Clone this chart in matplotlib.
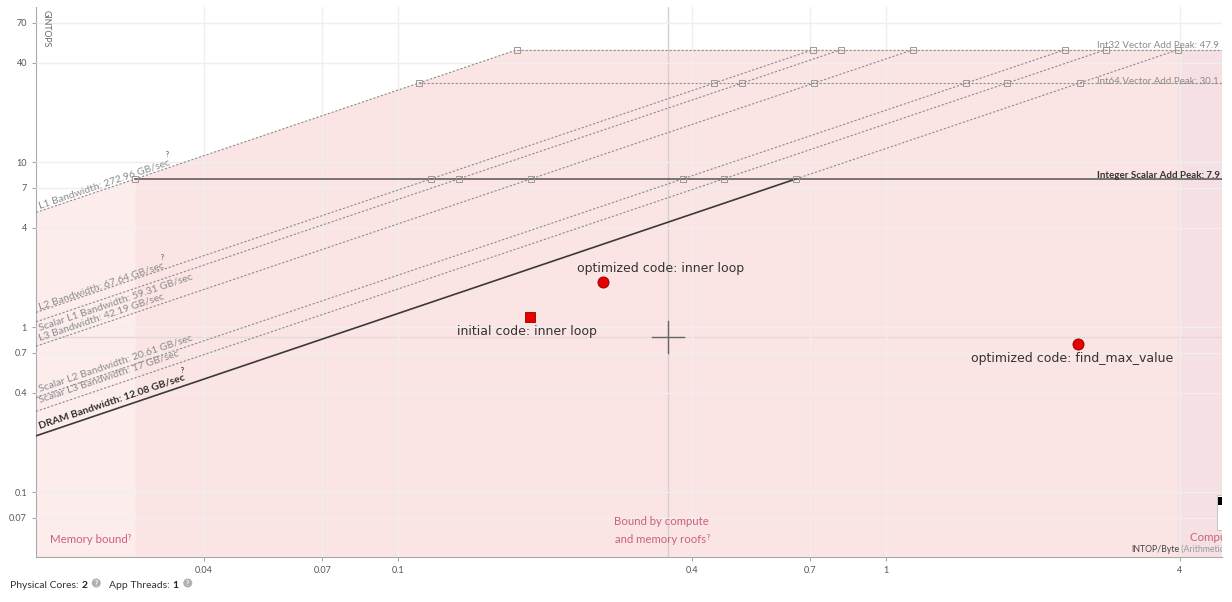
import matplotlib
matplotlib.use("Agg")
import matplotlib.pyplot as plt
import matplotlib.transforms as mtransforms
import numpy as np
from matplotlib.patches import Rectangle

# bandwidth roofs (GB/sec)
bw_labels = ["L1 Bandwidth: 272.96 GB/sec", "L2 Bandwidth: 67.64 GB/sec",
             "Scalar L1 Bandwidth: 59.31 GB/sec", "L3 Bandwidth: 42.19 GB/sec",
             "Scalar L2 Bandwidth: 20.61 GB/sec", "Scalar L3 Bandwidth: 17 GB/sec",
             "DRAM Bandwidth: 12.08 GB/sec"]
bw_values = [272.96, 67.64, 59.31, 42.19, 20.61, 17.0, 12.08]

# compute roofs (GINTOPS)
peak_labels = ["Int32 Vector Add Peak: 47.9", "Int64 Vector Add Peak: 30.1",
               "Integer Scalar Add Peak: 7.9"]
peak_values = [47.9, 30.1, 7.9]

# loops
loop_labels = ["initial code: inner loop", "optimized code: inner loop",
               "optimized code: find_max_value"]
loop_ai = [0.186, 0.263, 2.47]
loop_gintops = [1.15, 1.87, 0.79]
loop_markers = ["s", "o", "o"]

cursor_ai, cursor_gintops = 0.357, 0.865

xticks = [0.04, 0.07, 0.1, 0.4, 0.7, 1, 4]
xtick_labels = ["0.04", "0.07", "0.1", "0.4", "0.7", "1", "4"]
yticks = [0.07, 0.1, 0.4, 0.7, 1, 4, 7, 10, 40, 70]
ytick_labels = ["0.07", "0.1", "0.4", "0.7", "1", "4", "7", "10", "40", "70"]

# layout tweaks (pixels)
bw_label_dy = [3, 2, -10, 4, 5, 8, 6]
peak_label_dy = [2, -1, 1]
loop_label_off = [(-3, -15), (58, 14), (-6, -15)]

plt.rcParams["font.family"] = ["Lato", "DejaVu Sans"]
GRAY = "#8c8c8c"
PINK_TXT = "#c9627e"

fig = plt.figure(figsize=(12.32, 6.02), dpi=100)
ax = fig.add_axes([36 / 1232, 45 / 602, 1186 / 1232, 550 / 602])
ax.set_xscale("log"); ax.set_yscale("log")
ax.set_xlim(0.01812, 4.881); ax.set_ylim(0.04037, 87.0)

x0, x1 = ax.get_xlim()
l1 = bw_values[0]; dram = bw_values[-1]
top_peak = max(peak_values); scalar_peak = min(peak_values)
x_mem = scalar_peak / l1
x_comp = top_peak / dram

# shaded area under the roofline envelope, split into the three zones
xs = np.geomspace(x0, x1, 600)
for lo, hi, col in [(x0, x_mem, "#fcecec"), (x_mem, x_comp, "#fbe4e4"), (x_comp, x1, "#f5e1e4")]:
    m = (xs >= lo) & (xs <= hi)
    xx = np.concatenate([[lo], xs[m], [hi]])
    yy = np.minimum(l1 * xx, top_peak)
    ax.fill_between(xx, 1e-3, yy, color=col, lw=0, zorder=0)

ax.set_xticks(xticks); ax.set_xticklabels(xtick_labels)
ax.set_yticks(yticks); ax.set_yticklabels(ytick_labels)
ax.minorticks_off()
ax.grid(True, color="#f1eeee", lw=1, zorder=1)
ax.set_axisbelow(False)
ax.tick_params(labelsize=6.5, labelcolor="#555", color="#aaa", length=3, width=0.8)
for s in ["top", "right"]:
    ax.spines[s].set_visible(False)
for s in ["left", "bottom"]:
    ax.spines[s].set_color("#aaa")

# cursor crosshair
ax.axvline(cursor_ai, color="#d6cfcf", lw=1, zorder=2)
ax.axhline(cursor_gintops, color="#e4dada", lw=1, zorder=2)
fx, fy = 10 ** (16 / 488), 10 ** (16 / 165)
ax.plot([cursor_ai / fx, cursor_ai * fx], [cursor_gintops] * 2, color="#666", lw=1, zorder=3)
ax.plot([cursor_ai] * 2, [cursor_gintops / fy, cursor_gintops * fy], color="#666", lw=1, zorder=3)

# bandwidth roofs
for i, bw in enumerate(bw_values):
    xe = top_peak / bw
    if i == len(bw_values) - 1:
        xs_ = scalar_peak / bw
        ax.plot([x0, xs_], [bw * x0, bw * xs_], color="#3a3a3a", lw=1.2, zorder=4)
        ax.plot([xs_, xe], [bw * xs_, bw * xe], color=GRAY, lw=0.8, dashes=(2, 1.6), zorder=4)
    else:
        ax.plot([x0, xe], [bw * x0, bw * xe], color=GRAY, lw=0.8, dashes=(2, 1.6), zorder=4)

# compute roofs
for i, pk in enumerate(peak_values):
    xx = np.array([pk / l1, x1])
    if pk == scalar_peak:
        ax.plot(xx, [pk, pk], color="#555", lw=1.1, zorder=4)
    else:
        ax.plot(xx, [pk, pk], color=GRAY, lw=0.8, dashes=(2, 1.6), zorder=4)

# small markers where bandwidth roofs meet compute roofs
for bw in bw_values:
    for pk in peak_values:
        ax.plot(pk / bw, pk, marker="s", ms=4, mfc="none", mec="#999", mew=0.7, zorder=5)

# angle of the bandwidth lines on screen
p1 = ax.transData.transform((0.1, 1.0)); p2 = ax.transData.transform((1.0, 10.0))
ang = np.degrees(np.arctan2(p2[1] - p1[1], p2[0] - p1[0]))

lab_x = x0 * 10 ** (4 / 488)
bw_texts = []
for i, (lab, bw) in enumerate(zip(bw_labels, bw_values)):
    last = i == len(bw_values) - 1
    t = ax.annotate(lab, xy=(lab_x, bw * lab_x), xytext=(0, bw_label_dy[i]),
                    textcoords="offset pixels", rotation=ang, rotation_mode="anchor",
                    ha="left", va="baseline", fontsize=7.5,
                    color="#2f2f2f" if last else GRAY,
                    fontweight="bold" if last else "normal", zorder=6)
    bw_texts.append(t)

ytr = ax.get_yaxis_transform()
for i, (lab, pk) in enumerate(zip(peak_labels, peak_values)):
    bold = pk == scalar_peak
    ax.annotate(lab, xy=(0.8946, pk), xycoords=ytr, xytext=(0, peak_label_dy[i]),
                textcoords="offset pixels", ha="left", va="baseline", fontsize=7,
                color="#333" if bold else GRAY, fontweight="bold" if bold else "normal",
                annotation_clip=False, clip_on=True, zorder=6)

# loops
for lab, ai, g, mk, off in zip(loop_labels, loop_ai, loop_gintops, loop_markers, loop_label_off):
    ax.plot(ai, g, marker=mk, ms=8 if mk == "o" else 7.5, mfc="#e60000",
            mec="#8b0000", mew=0.6, zorder=8, ls="none")
    ax.annotate(lab, xy=(ai, g), xytext=off, textcoords="offset pixels",
                ha="center", va="center", fontsize=9, color="#333",
                family="DejaVu Sans", zorder=8)

# zone labels
zone_mem = ax.text((50 - 36) / 1186, 0.022, "Memory bound", transform=ax.transAxes,
                   fontsize=8.3, color=PINK_TXT, ha="left", va="bottom")
zone_mid = ax.text((661 - 36) / 1186, 0.022, "Bound by compute\nand memory roofs",
                   transform=ax.transAxes, fontsize=8.2, color=PINK_TXT, ha="center",
                   va="bottom", linespacing=1.8)
ax.text((1190 - 36) / 1186, 0.025, "Compute bound", transform=ax.transAxes, fontsize=8.3,
        color=PINK_TXT, ha="left", va="bottom", clip_on=True)
xl1 = ax.text((1131 - 36) / 1186, 0.006, "INTOP/Byte", transform=ax.transAxes,
              fontsize=6.3, color="#444", ha="left", va="bottom")
ax.text(0.005, 0.995, "GINTOPS", transform=ax.transAxes, rotation=-90, fontsize=6.3,
        color="#666", ha="left", va="top")

# partly visible widget at the right edge
ax.add_patch(Rectangle((0.9958, 0.05), 0.01, 0.062, transform=ax.transAxes,
                       fc="white", ec="#bbb", lw=0.6, zorder=9, clip_on=True))
ax.add_patch(Rectangle((0.9968, 0.095), 0.004, 0.014, transform=ax.transAxes,
                       fc="black", ec="none", zorder=10, clip_on=True))

# footer
fig.text(10 / 1232, 1 - 585 / 602, "Physical Cores: ", fontsize=7.5, color="#333", va="center")

fig.canvas.draw()
rend = fig.canvas.get_renderer()
px = mtransforms.IdentityTransform()


def hint(artist, dx, dy, color):
    bb = artist.get_window_extent(rend)
    fig.text(bb.x1 + dx, bb.y1 + dy, "?", transform=px, fontsize=4.8, color=color,
             ha="left", va="top", fontweight="bold")


hint(bw_texts[0], -5, 6, "#666")
hint(bw_texts[1], -5, 6, "#666")
hint(bw_texts[-1], -5, 6, "#333")
hint(zone_mem, 0, 0, PINK_TXT)
hint(zone_mid, -2, -18, PINK_TXT)

bb = xl1.get_window_extent(rend)
ax.annotate(" (Arithmetic Intensity)", xy=(bb.x1, bb.y0), xycoords=px, fontsize=6.3,
            color="#999", ha="left", va="bottom", annotation_clip=False, clip_on=True)


def icon(x, y):
    fig.text(x, y, "?", transform=px, fontsize=4.8, color="white", ha="center",
             va="center", fontweight="bold",
             bbox=dict(boxstyle="circle,pad=0.15", fc="#b0b0b0", ec="none"))


t0 = fig.texts[0]
bb = t0.get_window_extent(rend)
t1 = fig.text(bb.x1, bb.y0, "2", transform=px, fontsize=7.5, color="#222",
              fontweight="bold", va="bottom")
bb = t1.get_window_extent(rend)
icon(bb.x1 + 9, (bb.y0 + bb.y1) / 2 + 2)
t2 = fig.text(bb.x1 + 22, bb.y0, "App Threads: ", transform=px, fontsize=7.5, color="#333",
              va="bottom")
bb = t2.get_window_extent(rend)
t3 = fig.text(bb.x1, bb.y0, "1", transform=px, fontsize=7.5, color="#222",
              fontweight="bold", va="bottom")
bb = t3.get_window_extent(rend)
icon(bb.x1 + 9, (bb.y0 + bb.y1) / 2 + 2)

fig.savefig("out.png", dpi=100, facecolor="white")
